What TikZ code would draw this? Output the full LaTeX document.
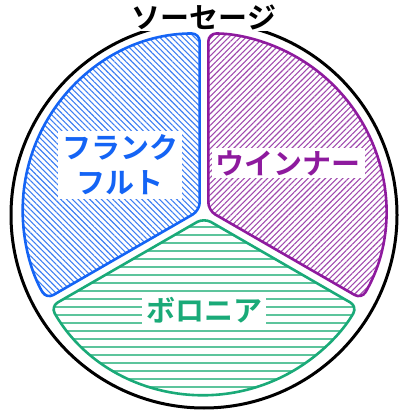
\documentclass[tikz,border=0pt]{standalone}
\usepackage{fontspec}
\newfontfamily\jp{Noto Sans CJK JP}[BoldFont={Noto Sans CJK JP Bold}]
\usetikzlibrary{patterns.meta,calc}
\definecolor{cblue}{HTML}{1464F5}
\definecolor{hblue}{HTML}{3F7FF2}
\definecolor{cpurple}{HTML}{8E1A9E}
\definecolor{hpurple}{HTML}{A04AAE}
\definecolor{cgreen}{HTML}{1AAA78}
\definecolor{hgreen}{HTML}{5CC49C}
\tikzset{
  sector/.style={line width=2.6pt, rounded corners=8pt, line join=round},
  lab/.style={fill=white, inner sep=4pt, font=\jp\bfseries\fontsize{29}{35}\selectfont, align=center},
}
\begin{document}
\begin{tikzpicture}[x=1pt,y=1pt]
\useasboundingbox (0,0) rectangle (398,411);
\coordinate (c) at (204,198);
\coordinate (bA) at ($(c)+(150:5)$);
\coordinate (pA) at ($(c)+(30:5)$);
\coordinate (gA) at ($(c)+(270:5)$);
\draw[line width=3pt] (204,196) circle[radius=193];
\draw[sector, draw=cblue, pattern={Lines[angle=-45,distance=4.1pt,line width=1.1pt]}, pattern color=hblue]
  (bA) -- ++(90:177) arc[start angle=90,end angle=210,radius=177] -- cycle;
\draw[sector, draw=cpurple, pattern={Lines[angle=45,distance=4.1pt,line width=1.1pt]}, pattern color=hpurple]
  (pA) -- ++(-30:177) arc[start angle=-30,end angle=90,radius=177] -- cycle;
\draw[sector, draw=cgreen, pattern={Lines[angle=0,distance=8pt,line width=1.6pt]}, pattern color=hgreen]
  (gA) -- ++(210:177) arc[start angle=210,end angle=330,radius=177] -- cycle;
\node[lab, text=black, inner ysep=1pt, inner xsep=6pt] (title) at (204,394) {ソーセージ};
\node[lab, text=cblue] (frank) at (120,246) {フランク\\フルト};
\node[lab, text=cpurple, inner ysep=2pt] (wien) at (288,248) {ウインナー};
\node[lab, text=cgreen, inner ysep=2pt] (bolo) at (204,101) {ボロニア};
\end{tikzpicture}
\end{document}
